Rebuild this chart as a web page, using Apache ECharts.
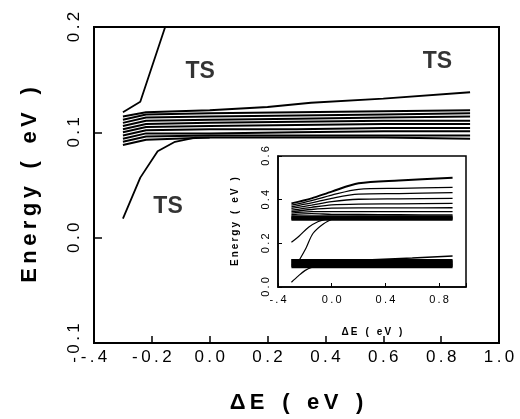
<!DOCTYPE html>
<html>
<head>
<meta charset="utf-8">
<script src="https://cdn.jsdelivr.net/npm/echarts@6/dist/echarts.min.js"></script>
<style>
  html, body { margin: 0; padding: 0; background: #fff; }
  #chart { width: 520px; height: 419px; }
</style>
</head>
<body>
<div id="chart"></div>
<script>
// main panel: x positions shared by the bundle of levels
var mainX = [-0.3, -0.22, 0.0, 0.3, 0.6, 0.9];
var mainLevels = [
    [0.112, 0.117, 0.118, 0.119, 0.120, 0.121],
    [0.109, 0.114, 0.115, 0.116, 0.117, 0.118],
    [0.106, 0.111, 0.112, 0.113, 0.114, 0.115],
    [0.103, 0.108, 0.109, 0.110, 0.111, 0.111],
    [0.100, 0.105, 0.106, 0.107, 0.108, 0.108],
    [0.097, 0.102, 0.103, 0.103, 0.104, 0.104],
    [0.094, 0.099, 0.099, 0.100, 0.101, 0.101],
    [0.091, 0.096, 0.097, 0.097, 0.097, 0.097],
    [0.088, 0.093, 0.095, 0.095, 0.095, 0.094]
];
var mainTopLevel = [[-0.3, 0.115], [-0.22, 0.119], [0.0, 0.121], [0.2, 0.124], [0.35, 0.128], [0.6, 0.132], [0.9, 0.138]];
var mainUpperTS = [[-0.3, 0.119], [-0.24, 0.129], [-0.154, 0.2]];
var mainLowerTS = [[-0.3, 0.018], [-0.24, 0.057], [-0.18, 0.082], [-0.12, 0.091], [-0.05, 0.095], [0.0, 0.095]];
var tsLabels = [[-0.033, 0.158], [0.787, 0.167], [-0.144, 0.029]];

// inset panel
var insetX = [-0.3, -0.15, 0.0, 0.2, 0.5, 0.9];
var insetUpper = [
    [0.383, 0.406, 0.437, 0.475, 0.488, 0.500],
    [0.375, 0.396, 0.421, 0.447, 0.452, 0.456],
    [0.367, 0.385, 0.406, 0.425, 0.428, 0.432],
    [0.360, 0.375, 0.391, 0.402, 0.404, 0.406],
    [0.352, 0.365, 0.376, 0.380, 0.381, 0.383],
    [0.345, 0.355, 0.361, 0.362, 0.362, 0.363],
    [0.338, 0.345, 0.345, 0.345, 0.345, 0.345],
    [0.331, 0.336, 0.333, 0.332, 0.331, 0.330]
];
var insetMidBand = [0.308, 0.312, 0.316, 0.320, 0.324];
var insetLowBand = [0.092, 0.097, 0.102, 0.107, 0.112, 0.117, 0.122];
var insetLowTop = [[-0.3, 0.125], [0.3, 0.125], [0.6, 0.133], [0.9, 0.142]];
var insetTS1 = [[-0.3, 0.022], [-0.25, 0.05], [-0.2, 0.075], [-0.15, 0.09], [-0.1, 0.095]];
var insetTS2 = [[-0.24, 0.125], [-0.19, 0.18], [-0.14, 0.245], [-0.06, 0.29], [0.02, 0.315]];
var insetTS3 = [[-0.3, 0.205], [-0.24, 0.235], [-0.17, 0.275], [-0.1, 0.3], [-0.05, 0.31]];

var FONT = '"Liberation Sans", Arial, sans-serif';

// spread the letters a bit, like the original typesetting
function spaced(s) {
    return s.split('').map(function(c) { return c === ' ' ? '\u2009\u2009' : c; }).join('\u2009');
}

function xLabel(v) {
    if (Math.abs(v + 0.4) < 1e-6) return '-.4';
    return v.toFixed(1);
}

var series = [];

function addLine(data, grid, width, smooth) {
    series.push({
        type: 'line',
        xAxisIndex: grid,
        yAxisIndex: grid,
        data: data,
        showSymbol: false,
        symbol: 'none',
        silent: true,
        smooth: smooth || false,
        lineStyle: { color: '#000', width: width },
        z: grid === 1 ? 12 : 3
    });
}

mainLevels.forEach(function(row) {
    addLine(row.map(function(y, i) { return [mainX[i], y]; }), 0, 2);
});
addLine(mainTopLevel, 0, 2);
addLine(mainUpperTS, 0, 1.8);
addLine(mainLowerTS, 0, 1.8);

insetUpper.forEach(function(row, k) {
    addLine(row.map(function(y, i) { return [insetX[i], y]; }), 1, k === 0 ? 2 : 1.3, 0.3);
});
insetMidBand.forEach(function(y) {
    addLine([[-0.3, y], [0.9, y]], 1, 1.8);
});
insetLowBand.forEach(function(y) {
    addLine([[-0.3, y], [0.9, y]], 1, 2.5);
});
addLine(insetLowTop, 1, 1.4);
addLine(insetTS1, 1, 1.2, 0.3);
addLine(insetTS2, 1, 1.2, 0.3);
addLine(insetTS3, 1, 1.2, 0.3);

series.push({
    type: 'scatter',
    xAxisIndex: 0,
    yAxisIndex: 0,
    data: tsLabels,
    symbolSize: 0,
    silent: true,
    label: {
        show: true,
        position: 'inside',
        formatter: 'TS',
        color: '#000',
        fontFamily: FONT,
        fontWeight: 'bold',
        fontSize: 23
    }
});

var chart = echarts.init(document.getElementById('chart'));
chart.setOption({
    animation: false,
    backgroundColor: '#fff',
    grid: [
        { left: 94, top: 27, width: 405, height: 323, show: true, borderColor: '#000', borderWidth: 2, backgroundColor: 'transparent' },
        { left: 278, top: 156, width: 188, height: 131, show: true, borderColor: '#000', borderWidth: 1.5, backgroundColor: '#fff', z: 5 }
    ],
    xAxis: [
        {
            type: 'value', gridIndex: 0, min: -0.4, max: 1.0, interval: 0.2,
            name: spaced('\u0394E ( eV )'), nameLocation: 'middle', nameGap: 49,
            nameTextStyle: { fontFamily: FONT, fontWeight: 'bold', fontSize: 22, color: '#000' },
            axisLine: { show: true, onZero: false, lineStyle: { color: '#000', width: 2 } },
            axisTick: { inside: true, length: 7, lineStyle: { color: '#000', width: 1.5 } },
            axisLabel: { margin: 6, fontFamily: FONT, fontSize: 17, color: '#000', formatter: function(v) { return spaced(xLabel(v)); } },
            splitLine: { show: false }
        },
        {
            type: 'value', gridIndex: 1, min: -0.4, max: 1.0, interval: 0.4,
            name: spaced('\u0394E ( eV )'), nameLocation: 'middle', nameGap: 40,
            nameTextStyle: { fontFamily: FONT, fontWeight: 'bold', fontSize: 10, color: '#000' },
            axisLine: { show: true, onZero: false, lineStyle: { color: '#000', width: 1.5 } },
            axisTick: { inside: true, length: 4, lineStyle: { color: '#000', width: 1 } },
            axisLabel: {
                margin: 7, fontFamily: FONT, fontSize: 11, color: '#000',
                formatter: function(v) { return v > 0.95 ? '' : spaced(xLabel(v)); }
            },
            splitLine: { show: false },
            z: 14
        }
    ],
    yAxis: [
        {
            type: 'value', gridIndex: 0, min: -0.1, max: 0.2, interval: 0.1,
            name: spaced('Energy ( eV )'), nameLocation: 'middle', nameGap: 53,
            nameTextStyle: { fontFamily: FONT, fontWeight: 'bold', fontSize: 22, color: '#000' },
            axisLine: { show: true, onZero: false, lineStyle: { color: '#000', width: 2 } },
            axisTick: { inside: true, length: 8, lineStyle: { color: '#000', width: 1.5 } },
            axisLabel: { rotate: 90, margin: 11, fontFamily: FONT, fontSize: 17, color: '#000', formatter: function(v) { return spaced(v.toFixed(1)); } },
            splitLine: { show: false }
        },
        {
            type: 'value', gridIndex: 1, min: 0, max: 0.6, interval: 0.2,
            name: spaced('Energy ( eV )'), nameLocation: 'middle', nameGap: 38,
            nameTextStyle: { fontFamily: FONT, fontWeight: 'bold', fontSize: 10, color: '#000' },
            axisLine: { show: true, onZero: false, lineStyle: { color: '#000', width: 1.5 } },
            axisTick: { inside: true, length: 4, lineStyle: { color: '#000', width: 1 } },
            axisLabel: { rotate: 90, margin: 7, fontFamily: FONT, fontSize: 11, color: '#000', formatter: function(v) { return spaced(v.toFixed(1)); } },
            splitLine: { show: false },
            z: 14
        }
    ],
    series: series
});
</script>
</body>
</html>
